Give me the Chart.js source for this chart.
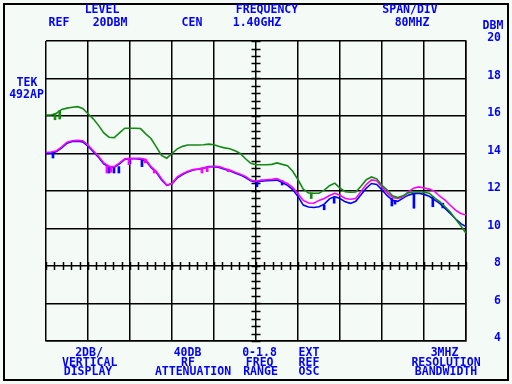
<!DOCTYPE html>
<html>
<head>
<meta charset="utf-8">
<script src="https://cdn.jsdelivr.net/npm/chart.js@4/dist/chart.umd.min.js"></script>
<style>
html,body{margin:0;padding:0;background:#f4fbf7;}
canvas{display:block;}
</style>
</head>
<body>
<canvas id="c" width="512" height="384" style="width:512px;height:384px"></canvas>
<script>
// Frequency (MHz), 1.0 - 1.8 GHz, centre 1.40 GHz, 80 MHz/div
const freqs = [];
for (let f = 1000; f <= 1800; f += 10) freqs.push(f);

const greenTrace = [16.05,16.05,16.15,16.35,16.42,16.47,16.5,16.4,16.12,15.85,15.5,15.1,14.87,14.85,15.1,15.35,15.35,15.35,15.33,15.05,14.8,14.35,13.9,13.75,14.0,14.25,14.38,14.45,14.45,14.45,14.47,14.5,14.47,14.37,14.3,14.25,14.15,14.0,13.72,13.48,13.4,13.4,13.4,13.42,13.5,13.42,13.35,13.05,12.6,12.1,11.9,11.88,11.88,12.05,12.28,12.42,12.15,11.96,11.93,11.95,12.25,12.6,12.75,12.65,12.3,12.05,11.75,11.65,11.75,11.9,11.95,11.96,11.93,11.88,11.63,11.44,11.16,10.88,10.5,10.15,9.75];

const magentaTrace = [14.05,14.08,14.15,14.35,14.6,14.68,14.7,14.68,14.45,14.15,13.85,13.5,13.32,13.3,13.5,13.72,13.74,13.74,13.74,13.68,13.3,13.05,12.65,12.32,12.4,12.75,12.92,13.05,13.14,13.18,13.23,13.28,13.32,13.3,13.2,13.12,13.0,12.9,12.77,12.58,12.52,12.58,12.6,12.62,12.66,12.52,12.4,12.18,11.85,11.5,11.36,11.35,11.5,11.6,11.76,11.88,11.78,11.6,11.56,11.6,11.98,12.35,12.59,12.55,12.22,11.9,11.65,11.6,11.68,11.95,12.15,12.22,12.16,12.1,11.98,11.72,11.52,11.24,10.98,10.8,10.72];

const blueTrace = [14.0,14.02,14.1,14.3,14.55,14.64,14.66,14.62,14.4,14.1,13.8,13.45,13.28,13.27,13.45,13.68,13.72,13.72,13.7,13.62,13.25,13.0,12.6,12.3,12.38,12.7,12.88,13.02,13.12,13.16,13.22,13.3,13.3,13.26,13.16,13.08,12.96,12.86,12.72,12.55,12.48,12.52,12.55,12.56,12.58,12.45,12.3,12.08,11.7,11.25,11.15,11.12,11.16,11.3,11.58,11.7,11.6,11.42,11.34,11.45,11.8,12.15,12.4,12.35,12.05,11.75,11.5,11.45,11.62,11.78,11.86,11.88,11.82,11.72,11.53,11.34,11.07,10.8,10.52,10.26,10.1];

// Noise spikes: [freq MHz, low dBm, high dBm]
const greenSpikes = [[1021,15.8,16.1],[1030,15.84,16.3],[1509,11.6,11.88]];
const magentaSpikes = [[1116,12.96,13.35],[1124,13.0,13.3],[1158,13.4,13.74],[1189,13.5,13.7],[1206,12.96,13.1],[1297,12.96,13.22],[1307,13.03,13.28],[1347,13.03,13.15]];
const blueSpikes = [[1009.5,13.76,14.02],[1116,12.96,13.3],[1125.7,12.96,13.28],[1135,12.96,13.3],[1156,13.45,13.7],[1179,13.3,13.7],[1398,12.23,12.5],[1446,12.32,12.55],[1526,11.0,11.25],[1545,11.35,11.65],[1655,11.2,11.6],[1661,11.3,11.5],[1697,11.08,11.85],[1733,11.16,11.7],[1752,11.1,11.35]];

const yTicks = [4,6,8,10,12,14,16,18,20];

const BLUE = '#0000ff';
const GREEN = '#138a13';
const MAGENTA = '#ff00ff';
const TRACE_BLUE = '#0000ff';
const FONT = 'bold 11.5px "DejaVu Sans Mono", monospace';

const topTexts = [
  ['LEVEL',102,10],['FREQUENCY',267,10],['SPAN/DIV',410,10],
  ['REF',59,23],['20DBM',110,23],['CEN',192,23],['1.40GHZ',257,23],['80MHZ',412,23],
  ['DBM',493,26],['TEK',27,83],['492AP',26.5,95]
];
const bottomTexts = [
  ['2DB/',89,353.5],['VERTICAL',89.7,363.5],['DISPLAY',88,372.5],
  ['40DB',187.5,353.5],['RF',188,363.5],['ATTENUATION',193,372.5],
  ['0-1.8',259.5,353.5],['FREQ',259.7,363.5],['RANGE',260.5,372.5],
  ['EXT',309,353.5],['REF',309,363.5],['OSC',309,372.5],
  ['3MHZ',444.5,353.5],['RESOLUTION',446,363.5],['BANDWIDTH',446,372.5]
];

const toPts = arr => arr.map((v,i)=>({x:freqs[i], y:v}));
const toBars = arr => arr.map(s=>({x:s[0], y:[s[1],s[2]]}));

const frame = {
  id:'frame',
  beforeDraw(chart){
    const ctx = chart.ctx;
    ctx.save();
    ctx.fillStyle = '#f4fbf7';
    ctx.fillRect(0,0,chart.width,chart.height);
    ctx.strokeStyle = '#000';
    ctx.lineWidth = 2;
    ctx.strokeRect(4,4,504,376);
    ctx.restore();
  },
  beforeDatasetsDraw(chart){
    const ctx = chart.ctx, xs = chart.scales.x, ys = chart.scales.y;
    const cx = xs.getPixelForValue(1400), cy = ys.getPixelForValue(8);
    ctx.save();
    ctx.strokeStyle = '#000';
    ctx.lineWidth = 1.5;
    ctx.beginPath();
    for (let v = 4; v <= 20.001; v += 0.4) {
      const y = Math.round(ys.getPixelForValue(v)) + 0.5;
      ctx.moveTo(cx-4.5, y); ctx.lineTo(cx+4.5, y);
    }
    for (let f = 1000; f <= 1800.001; f += 16) {
      const x = Math.round(xs.getPixelForValue(f)) + 0.5;
      ctx.moveTo(x, cy-4); ctx.lineTo(x, cy+4);
    }
    ctx.stroke();
    ctx.restore();
  },
  afterDraw(chart){
    const ctx = chart.ctx;
    ctx.save();
    ctx.fillStyle = BLUE;
    ctx.font = FONT;
    ctx.textAlign = 'center';
    ctx.textBaseline = 'middle';
    for (const [t,x,y] of topTexts.concat(bottomTexts)) ctx.fillText(t,x,y);
    ctx.restore();
  }
};

new Chart(document.getElementById('c'), {
  type:'line',
  data:{
    datasets:[
      {data:toPts(greenTrace), borderColor:GREEN, borderWidth:1.6, pointRadius:0, order:0},
      {type:'bar', data:toBars(greenSpikes), backgroundColor:GREEN, barThickness:2, order:1},
      {data:toPts(magentaTrace), borderColor:MAGENTA, borderWidth:1.6, pointRadius:0, order:2},
      {type:'bar', data:toBars(magentaSpikes), backgroundColor:MAGENTA, barThickness:2, order:3},
      {data:toPts(blueTrace), borderColor:TRACE_BLUE, borderWidth:1.6, pointRadius:0, order:4},
      {type:'bar', data:toBars(blueSpikes), backgroundColor:TRACE_BLUE, barThickness:2, order:5}
    ]
  },
  options:{
    responsive:false,
    animation:false,
    devicePixelRatio:1,
    layout:{padding:{left:46, top:41, bottom:43, right:11}},
    plugins:{legend:{display:false}, tooltip:{enabled:false}},
    scales:{
      x:{
        type:'linear', min:1000, max:1800, offset:false,
        ticks:{display:false, stepSize:80},
        grid:{color:'#000', lineWidth:1.5, drawTicks:false, offset:false},
        border:{color:'#000', width:1.5},
        afterFit(s){ s.height = 0; }
      },
      y:{
        position:'right', min:4, max:20,
        afterBuildTicks(s){ s.ticks = yTicks.map(v=>({value:v})); },
        ticks:{color:BLUE, font:{family:'"DejaVu Sans Mono", monospace', size:11.5, weight:'bold'}, padding:11, crossAlign:'far', labelOffset:-2.5},
        grid:{color:'#000', lineWidth:1.5, drawTicks:false},
        border:{color:'#000', width:1.5},
        afterFit(s){ s.width = 35; }
      }
    }
  },
  plugins:[frame]
});
</script>
</body>
</html>
